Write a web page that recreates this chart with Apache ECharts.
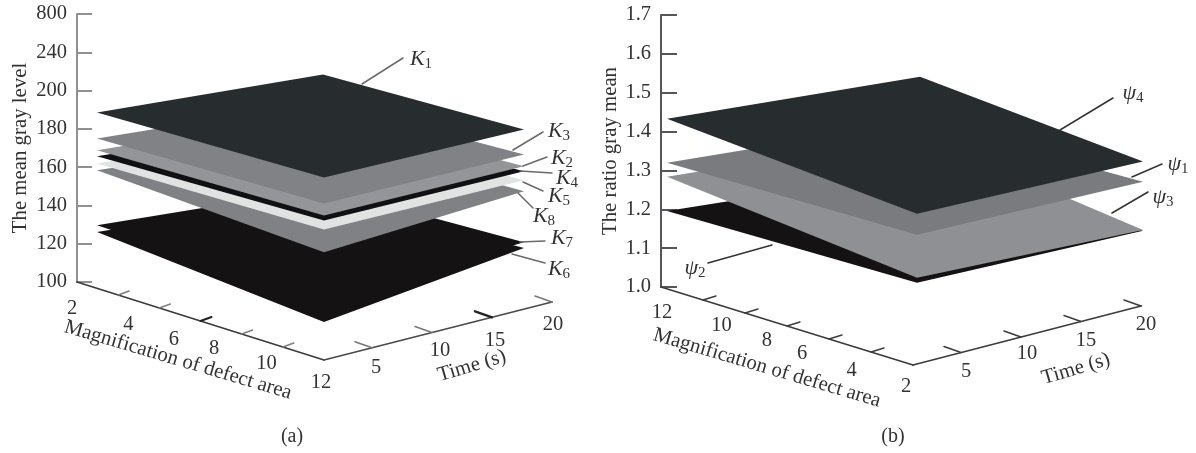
<!DOCTYPE html>
<html><head><meta charset="utf-8">
<style>html,body{margin:0;padding:0;background:#fff}#c{width:1196px;height:453px}</style>
<script src="https://cdn.jsdelivr.net/npm/echarts@6/dist/echarts.min.js"></script>
</head><body><div id="c"></div>
<script>
// ---------- data: surface heights at corners [mag low/time low, mag high/time low, mag high/time high, mag low/time high]
const grayTicks = [100,120,140,160,180,200,240,800];
const ratioTicks = [1.0,1.1,1.2,1.3,1.4,1.5,1.6,1.7];
const timeTicks = [5,10,15,20];
const magLabelsA = [2,4,6,8,10,12];
const magLabelsB = [12,10,8,6,4,2];

const K1 = [191.7,195.3,191.1,191.7];
const K2 = [171.9,175.5,171.9,171.4];
const K3 = [178.1,181.8,178.1,177.6];
const K4 = [168.8,172.9,169.3,168.2];
const K5 = [165.1,168.2,164.6,164.6];
const K6 = [129.2,119.8,129.2,128.6];
const K7 = [132.8,131.0,132.3,132.3];
const K8 = [161.5,156.3,158.9,159.9];

const PSI1 = [1.325,1.338,1.317,1.265];
const PSI2 = [1.201,1.214,1.191,1.137];
const PSI3 = [1.289,1.227,1.193,1.229];
const PSI4 = [1.438,1.392,1.369,1.379];

// ---------- layout
const SERIF = '"Liberation Serif", serif';
const panels = [{
  left:77, top:14, base:282, w:500, ticks:grayTicks, tickLen:15, axisColor:'#8e9092', title:'The mean gray level', nameGap:46,
  footX:[97,324,524,323], footY:[288,360,304,250],
  surfaces:[[K7,'#151214'],[K6,'#151214'],[K8,'#7f8184'],[K5,'#e1e3e3'],[K4,'#111012'],[K2,'#939598'],[K3,'#808285'],[K1,'#272c2e']],
  origin:[77,282], front:[324,360], end:[552,302], magTickV:[11,-4], timeTickV:[-17,-6],
  magColor:'#7d7d7d', darkMag:2, darkTime:2, floorColor:'#3c3c3e', timeColor:'#4a4a4c', timeTickColor:'#777',
  magLabels:magLabelsA, magOff:[[-5,27],[2,27],[-2,26],[-11,20],[-8,19],[-3,23]],
  timeOff:[[4,20],[8,18],[3,23],[1,23]],
  magTitle:[178,360], timeTitle:[472,366], caption:['(a)',292,437],
  leaders:[
    ['K','1',[362,84],[403,58],[421,59]],
    ['K','3',[513,150],[543,132],[559,131]],
    ['K','2',[523,166],[547,157],[562,158]],
    ['K','4',[520,171],[552,173],[567,178]],
    ['K','5',[523,182],[543,191],[559,196]],
    ['K','8',[518,193],[533,208],[544,216]],
    ['K','7',[520,242],[545,241],[562,238]],
    ['K','6',[512,254],[545,263],[559,269]]
  ], leaderColor:'#6a6a6a'
},{
  left:661, top:15, base:287, w:500, ticks:ratioTicks, tickLen:16, axisColor:'#55565a', title:'The ratio gray mean', nameGap:38,
  footX:[667,917,1143,920], footY:[289,366,305,224],
  surfaces:[[PSI2,'#151214'],[PSI3,'#8e9093'],[PSI1,'#7a7b7e'],[PSI4,'#272c2e']],
  origin:[661,287], front:[913,365], end:[1141,306], magTickV:[13,-4], timeTickV:[-17,-6],
  magColor:'#3c3c3e', darkMag:-1, darkTime:-1, floorColor:'#3c3c3e', timeColor:'#3c3c3e', timeTickColor:'#3c3c3e',
  magLabels:magLabelsB, magOff:[[1,26],[10,23],[5,22],[-10,20],[-11,21],[-7,22]],
  timeOff:[[5,19],[6,17],[5,19],[5,19]],
  magTitle:[767,368], timeTitle:[1076,369], caption:['(b)',893,437],
  leaders:[
    ['\u03C8','4',[1060,130],[1113,98],[1133,93]],
    ['\u03C8','1',[1132,177],[1162,164],[1178,164]],
    ['\u03C8','3',[1112,213],[1148,192],[1163,197]],
    ['\u03C8','2',[772,245],[708,263],[695,268]]
  ], leaderColor:'#333'
}];

const TEXT = '#333335';
const FS = 20.5;
const TITLE_FS = 20.8;

function tickIndex(ticks, z){
  for(let i=0;i<ticks.length-1;i++){
    if(z<=ticks[i+1]) return i+(z-ticks[i])/(ticks[i+1]-ticks[i]);
  }
  return ticks.length-1;
}

const grids=[],xAxes=[],yAxes=[],series=[];
panels.forEach((p,pi)=>{
  const pxt=(p.base-p.top)/(p.ticks.length-1);
  grids.push({left:p.left,top:p.top,width:p.w,height:p.base-p.top});
  xAxes.push({type:'value',gridIndex:pi,min:p.left,max:p.left+p.w,show:false});
  yAxes.push({type:'value',gridIndex:pi,min:0,max:p.ticks.length-1,interval:1,
    name:p.title,nameLocation:'middle',nameRotate:90,nameGap:p.nameGap,
    nameTextStyle:{fontFamily:SERIF,fontSize:TITLE_FS,color:TEXT},
    axisLine:{show:true,onZero:false,lineStyle:{color:p.axisColor,width:2}},
    axisTick:{show:true,inside:true,length:p.tickLen,lineStyle:{color:p.axisColor,width:2}},
    splitLine:{show:false},
    axisLabel:{margin:10,fontFamily:SERIF,fontSize:FS,color:TEXT,
      formatter:v=>{const t=p.ticks[Math.round(v)];return pi===1?t.toFixed(1):String(t);}}
  });
  // surfaces
  series.push({type:'custom',xAxisIndex:pi,yAxisIndex:pi,silent:true,z:3,clip:false,
    data:p.surfaces.map((s,i)=>[s[0][0],s[0][1],s[0][2],s[0][3],i]),
    renderItem(params,api){
      const pts=[0,1,2,3].map(c=>{
        const h=tickIndex(p.ticks,api.value(c));
        return api.coord([p.footX[c],h-(p.footY[c]-p.base)/pxt]);
      });
      return {type:'polygon',shape:{points:pts},style:{fill:p.surfaces[api.value(4)][1]}};
    }});
  // floor axes and annotation text
  series.push({type:'custom',xAxisIndex:pi,yAxisIndex:pi,silent:true,z:4,clip:false,data:[[0,0,0,0]],
    renderItem(params,api){
      const P=(x,y)=>api.coord([x,(p.base-y)/pxt]);
      const ch=[];
      const line=(a,b,c,w)=>{const A=P(a[0],a[1]),B=P(b[0],b[1]);ch.push({type:'line',shape:{x1:A[0],y1:A[1],x2:B[0],y2:B[1]},style:{stroke:c,lineWidth:w,lineCap:'round'}});};
      const text=(t,pos,rot,extra)=>{const A=P(pos[0],pos[1]);ch.push({type:'text',x:A[0],y:A[1],rotation:rot||0,style:Object.assign({text:t,fill:TEXT,font:FS+'px '+SERIF,align:'center',verticalAlign:'middle'},extra||{})});};
      const lerp=(a,b,f)=>[a[0]+(b[0]-a[0])*f,a[1]+(b[1]-a[1])*f];
      line(p.origin,p.front,p.floorColor,1.8);
      line(p.front,p.end,p.timeColor,1.8);
      for(let k=1;k<=5;k++){
        const b=lerp(p.origin,p.front,k/6);
        const dark=(k-1)===p.darkMag;
        line(b,[b[0]+p.magTickV[0],b[1]+p.magTickV[1]],dark?'#222':p.magColor,dark?2:1.4);
      }
      timeTicks.forEach((t,i)=>{
        const b=lerp(p.front,p.end,(t-1)/19);
        const dark=i===p.darkTime;
        line(b,[b[0]+p.timeTickV[0],b[1]+p.timeTickV[1]],dark?'#222':p.timeTickColor,dark?2.4:1.5);
        text(String(t),[b[0]+p.timeOff[i][0],b[1]+p.timeOff[i][1]]);
      });
      p.magLabels.forEach((m,i)=>{
        const b=lerp(p.origin,p.front,i/5);
        text(String(m),[b[0]+p.magOff[i][0],b[1]+p.magOff[i][1]]);
      });
      text('Magnification of defect area',p.magTitle,-16.5*Math.PI/180,{font:TITLE_FS+'px '+SERIF});
      text('Time (s)',p.timeTitle,16.5*Math.PI/180,{font:TITLE_FS+'px '+SERIF});
      text(p.caption[0],[p.caption[1],p.caption[2]],0,{font:'20px '+SERIF});
      p.leaders.forEach(l=>{
        line(l[2],l[3],p.leaderColor,1.5);
        text('{k|'+l[0]+'}{s|'+l[1]+'}',l[4],0,{rich:{
          k:{fontFamily:SERIF,fontStyle:'italic',fontSize:22,fill:TEXT,color:TEXT},
          s:{fontFamily:SERIF,fontSize:15,fill:TEXT,color:TEXT,verticalAlign:'bottom',padding:[10,0,0,0]}
        }});
      });
      return {type:'group',children:ch};
    }});
});

const chart=echarts.init(document.getElementById('c'),null,{renderer:'canvas'});
chart.setOption({animation:false,backgroundColor:'#fff',grid:grids,xAxis:xAxes,yAxis:yAxes,series});
</script></body></html>
